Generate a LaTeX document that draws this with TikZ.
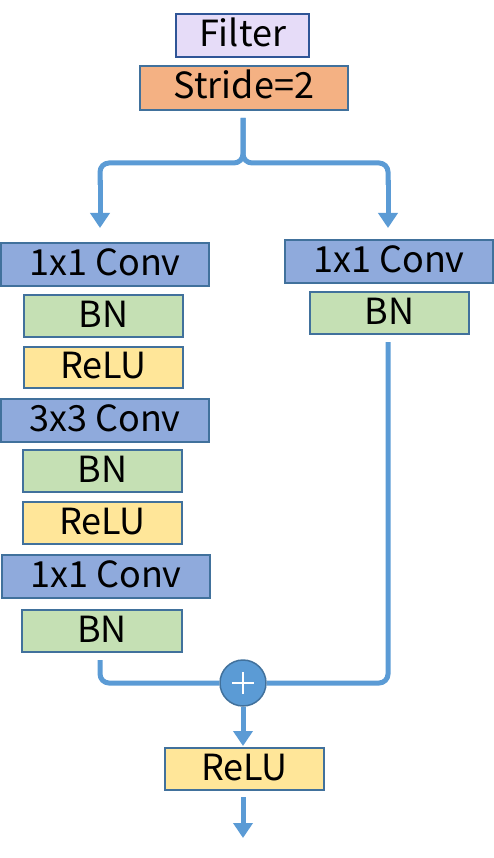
\documentclass[tikz,border=0pt]{standalone}
\usepackage{fontspec}
\setmainfont{Noto Sans CJK JP}
\usetikzlibrary{arrows.meta,calc}
\definecolor{convc}{HTML}{8FAADC}
\definecolor{bnc}{HTML}{C5E0B4}
\definecolor{reluc}{HTML}{FFE699}
\definecolor{stridec}{HTML}{F4B183}
\definecolor{filterc}{HTML}{E6DCF8}
\definecolor{edgec}{HTML}{41719C}
\definecolor{filteredge}{HTML}{2F5597}
\definecolor{linec}{HTML}{5B9BD5}
\tikzset{
  blk/.style={draw=edgec, line width=1.5pt, inner sep=0pt, outer sep=0pt,
    font=\fontsize{36}{40}\selectfont, text height=26pt, text depth=4pt, minimum height=43pt},
  wide/.style={blk, minimum width=208pt},
  narrow/.style={blk, minimum width=159pt, minimum height=42pt},
  convbox/.style={wide, fill=convc},
  bnbox/.style={narrow, fill=bnc},
  relubox/.style={narrow, fill=reluc},
  flow/.style={draw=linec, line width=5pt},
  arr/.style={flow, -{Triangle[width=19pt,length=15pt]}},
}
\begin{document}
\begin{tikzpicture}[x=1pt,y=-1pt]
\useasboundingbox (0,0) rectangle (494,858);
\node[blk, fill=filterc, draw=filteredge, minimum width=133pt] (filter) at (242.5,35.5) {Filter};
\node[blk, fill=stridec, minimum width=208pt, minimum height=44pt] (stride) at (244,88) {Stride=2};
\node[convbox] (c1) at (105,264.5) {1x1 Conv};
\node[bnbox] (bn1) at (103.5,316) {BN};
\node[relubox, minimum height=41pt] (r1) at (103.5,367.5) {ReLU};
\node[convbox] (c2) at (105,420.5) {3x3 Conv};
\node[bnbox] (bn2) at (102.5,471) {BN};
\node[relubox] (r2) at (102.5,523) {ReLU};
\node[convbox] (c3) at (106,576.5) {1x1 Conv};
\node[bnbox, minimum width=160pt] (bn3) at (102,631) {BN};
\node[convbox] (rc) at (389,261.5) {1x1 Conv};
\node[bnbox] (rbn) at (389.5,313) {BN};
\node[circle, fill=linec, draw=edgec, line width=1.5pt, minimum size=46pt, inner sep=0pt] (plus) at (243,683) {};
\draw[white, line width=1.8pt] ($(plus.center)+(-11,0)$) -- ($(plus.center)+(11,0)$)
  ($(plus.center)+(0,-11)$) -- ($(plus.center)+(0,11)$);
\node[relubox] (r3) at (244.5,769) {ReLU};
\coordinate (out) at (243,838);
% split brace
\draw[flow, rounded corners=9pt] ($(stride.south)+(-1,8)$) -- (243,163) -- (100,163) -- (100,185);
\draw[flow, rounded corners=9pt] ($(stride.south)+(-1,8)$) -- (243,163) -- (388,163) -- (388,185);
\draw[arr] (100,180) -- ($(c1.north)+(-5,-15)$);
\draw[arr] (388,180) -- ($(rc.north)+(-1,-12)$);
% merge
\draw[flow, rounded corners=9pt] ($(bn3.south)+(-2,8)$) |- (plus.west);
\draw[flow, rounded corners=9pt] ($(rbn.south)+(-1.5,8)$) |- (plus.east);
\draw[arr] (plus.south) -- ($(r3.north)+(-1.5,-2)$);
\draw[arr] ($(r3.south)+(-1.5,7)$) -- (out);
\end{tikzpicture}
\end{document}
